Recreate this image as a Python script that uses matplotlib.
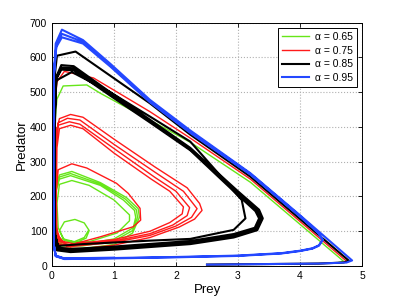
import matplotlib
matplotlib.use('Agg')
import matplotlib.pyplot as plt

# phase-plane trajectories (prey, predator)
green_x = [2.5, 4.3, 4.6, 4.7, 4.0, 3.2, 2.23, 1.74, 0.78, 0.56, 0.18, 0.08, 0.04, 0.03, 0.04, 0.07, 0.15,
           0.5, 1.0, 1.3, 1.41, 1.39, 1.2, 0.78, 0.32, 0.12, 0.06, 0.04, 0.06, 0.16,
           0.5, 1.0, 1.3, 1.38, 1.36, 1.18, 0.78, 0.3, 0.12, 0.06, 0.05, 0.07, 0.17,
           0.5, 1.0, 1.31, 1.35, 1.33, 1.15, 0.78, 0.3, 0.12, 0.07, 0.06, 0.08, 0.2,
           0.6, 1.05, 1.25, 1.25, 1.0, 0.6, 0.32, 0.12, 0.08, 0.1, 0.2,
           0.4, 0.55, 0.6, 0.52, 0.37, 0.2, 0.12, 0.18, 0.36, 0.52, 0.58]
green_y = [4, 7, 9, 14, 120, 241, 356, 404, 497, 521, 518, 480, 400, 250, 120, 70, 52,
           50, 62, 95, 140, 165, 197, 240, 272, 262, 225, 150, 78, 58,
           58, 72, 102, 140, 162, 193, 236, 266, 256, 222, 150, 84, 62,
           62, 78, 110, 140, 160, 190, 232, 260, 250, 218, 150, 90, 68,
           70, 95, 130, 147, 190, 232, 246, 235, 180, 110, 74,
           68, 80, 102, 124, 134, 127, 102, 78, 70, 82, 100]

red_x = [2.5, 4.3, 4.65, 4.75, 3.2, 2.23, 1.58, 0.67, 0.2, 0.08, 0.04, 0.03, 0.03, 0.05, 0.12,
         0.5, 1.0, 1.58, 2.05, 2.3, 2.42, 2.38, 2.18, 1.66, 1.0, 0.5, 0.3, 0.12, 0.06, 0.04, 0.05, 0.1,
         0.3, 1.0, 1.58, 2.0, 2.25, 2.34, 2.12, 1.66, 1.0, 0.45, 0.25, 0.1, 0.06, 0.05, 0.06, 0.12,
         0.3, 1.0, 1.58, 1.95, 2.18, 2.22, 2.0, 1.66, 1.0, 0.45, 0.28, 0.1, 0.07, 0.06, 0.07, 0.14,
         0.35, 1.0, 1.58, 1.9, 2.1, 2.12, 1.9, 1.6, 1.0, 0.5, 0.3, 0.12, 0.08, 0.07, 0.08, 0.24,
         0.78, 1.31, 1.43, 1.42, 1.23, 1.04, 0.56, 0.32, 0.1, 0.06, 0.05, 0.1, 0.3]
red_y = [4, 7, 9, 14, 250, 368, 444, 541, 560, 530, 450, 300, 150, 75, 52,
         50, 60, 82, 112, 135, 160, 180, 225, 285, 365, 428, 436, 424, 380, 250, 110, 65,
         56, 68, 88, 115, 140, 165, 215, 270, 350, 420, 425, 412, 360, 240, 110, 70,
         60, 72, 93, 118, 145, 168, 215, 255, 338, 408, 415, 405, 350, 230, 110, 72,
         64, 76, 100, 125, 150, 170, 215, 250, 325, 395, 405, 395, 340, 200, 90, 58,
         84, 113, 132, 166, 209, 238, 282, 294, 277, 200, 100, 62, 56]

black_x = [2.5, 4.3, 4.7, 4.79, 3.2, 2.23, 1.58, 0.38, 0.08, 0.04, 0.03, 0.03, 0.04, 0.1,
           0.5, 1.58, 2.23, 2.93, 3.12, 3.06, 2.74, 2.23, 1.58, 0.94, 0.32, 0.04, 0.03, 0.03, 0.04, 0.08,
           0.3, 1.0, 2.23, 2.93, 3.31, 3.4, 3.34, 3.0, 2.23, 1.58, 0.94, 0.35, 0.15, 0.07, 0.05, 0.04, 0.05, 0.1,
           0.3, 1.0, 2.23, 2.93, 3.29, 3.37, 3.31, 2.98, 2.23, 1.58, 0.94, 0.35, 0.15, 0.07, 0.05, 0.04, 0.05, 0.1,
           0.3, 1.0, 2.23, 2.93, 3.27, 3.34, 3.28, 2.95, 2.23, 1.58, 0.94, 0.35, 0.15, 0.07, 0.05, 0.04, 0.05, 0.1]
black_y = [4, 7, 10, 15, 257, 378, 468, 617, 605, 540, 400, 200, 80, 58,
           63, 73, 78, 104, 137, 190, 255, 358, 430, 500, 558, 531, 400, 200, 70, 45,
           40, 47, 63, 82, 103, 137, 162, 215, 340, 421, 500, 575, 578, 545, 450, 250, 90, 50,
           45, 52, 68, 87, 107, 137, 160, 213, 336, 417, 495, 569, 571, 540, 450, 250, 90, 53,
           49, 56, 72, 92, 110, 137, 158, 212, 333, 413, 490, 563, 565, 538, 450, 250, 90, 56]

blue_x = [2.5, 4.3, 4.75, 4.84, 4.0, 3.2, 2.23, 1.58, 0.94, 0.5, 0.16, 0.06, 0.03, 0.02, 0.02, 0.03, 0.06,
          0.2, 1.0, 2.0, 3.0, 3.7, 4.0, 4.2, 4.3, 4.37, 4.3, 4.0, 3.2, 2.23, 1.58, 0.94, 0.5, 0.16, 0.07,
          0.03, 0.02, 0.02, 0.03, 0.06,
          0.2, 1.0, 2.0, 3.0, 3.7, 4.0, 4.2, 4.31, 4.36, 4.29, 4.0, 3.2, 2.23, 1.58, 0.94, 0.5, 0.16, 0.07,
          0.03, 0.02, 0.02, 0.03, 0.06, 0.2, 1.0]
blue_y = [4, 7, 10, 16, 146, 267, 390, 478, 582, 650, 680, 640, 550, 400, 200, 60, 28,
          20, 22, 25, 29, 36, 43, 50, 58, 75, 95, 144, 265, 386, 474, 578, 645, 668, 635,
          550, 400, 200, 60, 29,
          21, 23, 26, 30, 37, 44, 51, 60, 76, 96, 142, 263, 383, 471, 574, 640, 658, 630,
          550, 400, 200, 60, 30, 22, 24]

alphas = ['0.65', '0.75', '0.85', '0.95']
colors = ['#66e619', '#ff1a1a', 'black', '#2448ff']
widths = [1.0, 1.0, 1.5, 1.5]

plt.rcParams['font.family'] = ['Liberation Sans', 'DejaVu Sans']

fig = plt.figure(figsize=(3.99, 3.0), dpi=100)
ax = fig.add_axes([0.1303, 0.1133, 0.7770, 0.8110])

series = [(green_x, green_y), (red_x, red_y), (black_x, black_y), (blue_x, blue_y)]
for (xs, ys), a, c, w in zip(series, alphas, colors, widths):
    ax.plot(xs, ys, color=c, lw=w, label='\u03b1 = ' + a)

ax.set_xlim(0, 5)
ax.set_ylim(0, 700)
ax.set_xticks([0, 1, 2, 3, 4, 5])
ax.set_yticks(range(0, 701, 100))
ax.grid(True, linestyle=':', color='#b0b0b0', linewidth=0.8)
ax.tick_params(direction='in', top=True, right=True, labelsize=7.5, length=3, width=0.6)
for s in ax.spines.values():
    s.set_linewidth(0.7)
ax.set_xlabel('Prey', fontsize=9.5, labelpad=2)
ax.set_ylabel('Predator', fontsize=9.5, labelpad=1)

leg = ax.legend(loc='upper right', fontsize=7.5, fancybox=False, edgecolor='black',
                framealpha=1, handlelength=2.6, borderaxespad=0.5, labelspacing=0.35,
                handletextpad=0.5, borderpad=0.4)
leg.get_frame().set_linewidth(0.7)

fig.savefig('out.png', dpi=100)
